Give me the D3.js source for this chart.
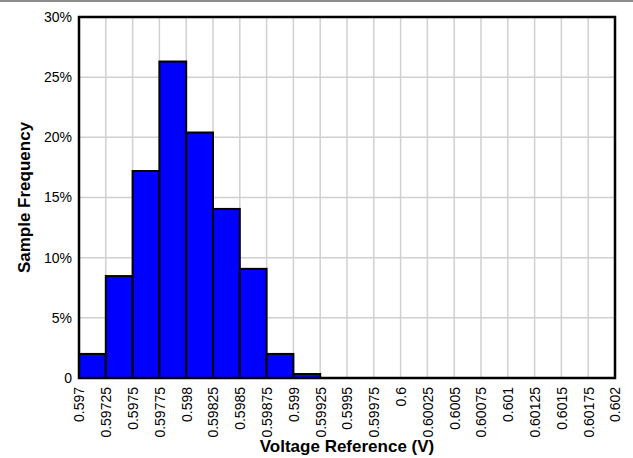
<!DOCTYPE html>
<html><head><meta charset="utf-8">
<script src="https://cdn.jsdelivr.net/npm/d3@7"></script>
<style>body{margin:0;background:#fff}svg{display:block}text{font-family:"Liberation Sans",Arial,sans-serif}</style>
</head><body>
<svg id="c" width="633" height="458"></svg>
<script>
const binStarts = [0.597,0.59725,0.5975,0.59775,0.598,0.59825,0.5985,0.59875,0.599,0.59925,0.5995,0.59975,0.6,0.60025,0.6005,0.60075,0.601,0.60125,0.6015,0.60175];
const binWidth = 0.00025;
const frequency = [2.0,8.47,17.2,26.3,20.4,14.05,9.07,2.0,0.33,0,0,0,0,0,0,0,0,0,0,0];
const xTickLabels = ["0.597","0.59725","0.5975","0.59775","0.598","0.59825","0.5985","0.59875","0.599","0.59925","0.5995","0.59975","0.6","0.60025","0.6005","0.60075","0.601","0.60125","0.6015","0.60175","0.602"];
const yTicks = [0,5,10,15,20,25,30];
const yTickLabels = ["0","5%","10%","15%","20%","25%","30%"];

const svg = d3.select("#c");
const L=79,R=615,T=17,B=378;
const x = d3.scaleLinear().domain([0.597,0.602]).range([L,R]);
const y = d3.scaleLinear().domain([0,30]).range([B,T]);

svg.append("rect").attr("x",0).attr("y",0).attr("width",633).attr("height",2).attr("fill","#8c8c8c");

const tickVals = xTickLabels.map(Number);
// gridlines
svg.append("g").selectAll("line").data(tickVals.slice(1,-1)).join("line")
  .attr("x1",d=>x(d)).attr("x2",d=>x(d)).attr("y1",T).attr("y2",B)
  .attr("stroke","#d0d0d0").attr("stroke-width",1.5);
svg.append("g").selectAll("line").data(yTicks.slice(1,-1)).join("line")
  .attr("x1",L).attr("x2",R).attr("y1",d=>y(d)).attr("y2",d=>y(d))
  .attr("stroke","#d0d0d0").attr("stroke-width",1.5);

// bars
svg.append("g").selectAll("rect").data(binStarts.map((s,i)=>({s,v:frequency[i]})).filter(d=>d.v>0)).join("rect")
  .attr("x",d=>x(d.s)).attr("width",d=>x(d.s+binWidth)-x(d.s))
  .attr("y",d=>y(d.v)).attr("height",d=>y(0)-y(d.v))
  .attr("fill","#0000ff").attr("stroke","#000").attr("stroke-width",2);

// border
svg.append("rect").attr("x",L).attr("y",T).attr("width",R-L).attr("height",B-T)
  .attr("fill","none").attr("stroke","#000").attr("stroke-width",2.5);

// y axis labels
const yAxis = d3.axisLeft(y).tickValues(yTicks).tickFormat((d,i)=>yTickLabels[i]).tickSize(0).tickPadding(7);
const ga = svg.append("g").attr("transform",`translate(${L},0)`).call(yAxis);
ga.select(".domain").remove();
ga.selectAll("text").attr("font-size",14).attr("font-family","Liberation Sans, Arial, sans-serif").attr("fill","#000");

// x axis labels
const xAxis = d3.axisBottom(x).tickValues(tickVals).tickFormat((d,i)=>xTickLabels[i]).tickSize(0);
const gx = svg.append("g").attr("transform",`translate(0,${B})`).call(xAxis);
gx.select(".domain").remove();
gx.selectAll("text").attr("font-size",14).attr("font-family","Liberation Sans, Arial, sans-serif").attr("fill","#000")
  .attr("transform","rotate(-90)").attr("text-anchor","end").attr("x",-9).attr("y",0).attr("dy","0.35em");

svg.append("text").attr("x",(L+R)/2).attr("y",452).attr("text-anchor","middle")
  .attr("font-size",17).attr("font-weight","bold").text("Voltage Reference (V)");
svg.append("text").attr("transform",`translate(29.5,${(T+B)/2}) rotate(-90)`).attr("text-anchor","middle")
  .attr("font-size",17).attr("font-weight","bold").text("Sample Frequency");
</script>
</body></html>
